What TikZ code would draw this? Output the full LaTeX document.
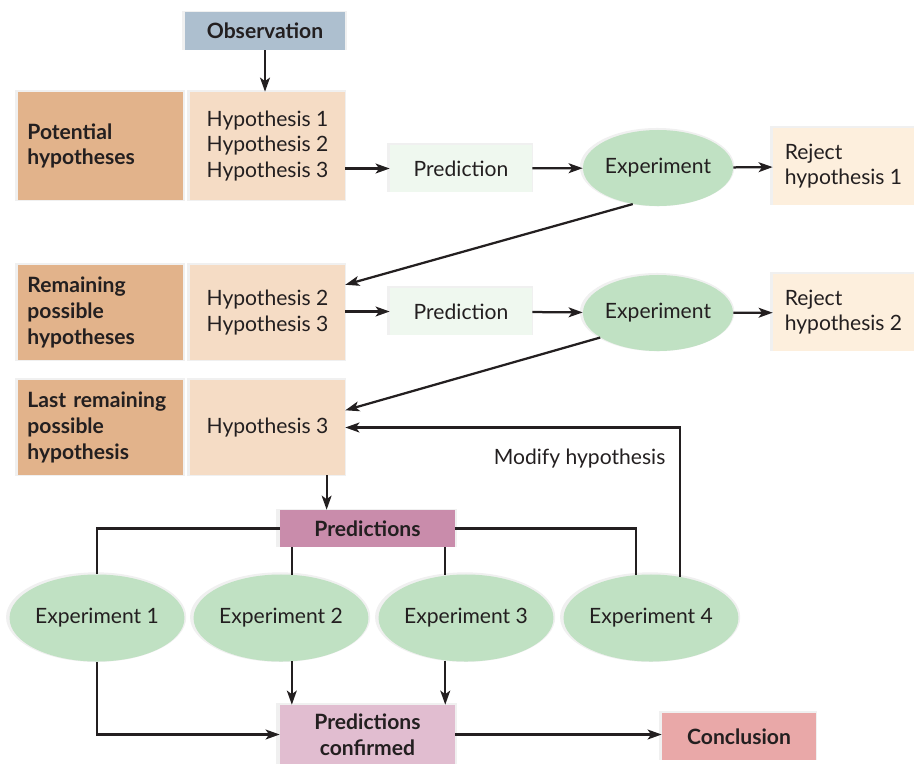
\documentclass[tikz,border=0pt]{standalone}
\usepackage{fontspec}
\setmainfont{Lato}
\usetikzlibrary{shapes.geometric,arrows.meta,calc,shadows}
\definecolor{obsblue}{HTML}{ADBFCF}
\definecolor{darktan}{HTML}{E2B38B}
\definecolor{lightpeach}{HTML}{F5DCC5}
\definecolor{predgreen}{HTML}{EFF8EF}
\definecolor{expgreen}{HTML}{C0E1C3}
\definecolor{rejectcream}{HTML}{FDEFDD}
\definecolor{predsmauve}{HTML}{C98CAB}
\definecolor{confirmpink}{HTML}{E1BDD0}
\definecolor{conclrose}{HTML}{E9A8A8}
\definecolor{inkdark}{HTML}{231F20}
\begin{document}
\begin{tikzpicture}
[x=0.025cm, y=-0.025cm,
  every node/.style={font=\fontsize{15}{17.9}\selectfont, text=inkdark},
  halo/.style={drop shadow={shadow xshift=-0.6pt, shadow yshift=0.6pt,
    shadow scale=1.03, opacity=0.06, fill=black}},
  boxdecorate/.style={shape=rectangle, inner sep=0pt, halo},
  darkbox/.style={boxdecorate, fill=darktan, minimum width=4.125cm,
    text width=3.65cm, align=left, font=\fontsize{15}{18.2}\selectfont\bfseries},
  hypbox/.style={boxdecorate, fill=lightpeach, minimum width=3.875cm, align=left},
  predbox/.style={boxdecorate, fill=predgreen, minimum width=3.55cm, minimum height=1.175cm},
  expdecorate/.style={shape=ellipse, inner sep=0pt, fill=expgreen, halo},
  rejectbox/.style={boxdecorate, fill=rejectcream, minimum width=3.525cm,
    minimum height=1.925cm, align=left},
  linedecorate/.style={draw=inkdark, line width=1.6pt},
  arrowdecorate/.style={linedecorate, -{Stealth[length=10pt,width=7pt,inset=2.5pt]}}]
\useasboundingbox (0,0) rectangle (914,764);
%% nodes or boxes
\node (obs) at (265,31) [boxdecorate, fill=obsblue, minimum width=4cm,
  minimum height=0.95cm, font=\fontsize{15}{17.7}\selectfont\bfseries] {Observation};
\foreach \nodename/\y/\h/\caption in {pa/146/2.7cm/{Potential\\hypotheses},
  pb/312.5/2.375cm/{Remaining\\possible\\hypotheses},
  pc/427.5/2.375cm/{Last remaining\\possible\\hypothesis}}
{
  \node (\nodename) at (100.5,\y) [darkbox, minimum height=\h] {\caption};
}
\node (hypA) at (267.5,146) [hypbox, minimum height=2.7cm]
  {Hypothesis 1\\Hypothesis 2\\Hypothesis 3};
\node (hypB) at (267.5,312.5) [hypbox, minimum height=2.375cm]
  {Hypothesis 2\\Hypothesis 3};
\node (hypC) at (267.5,427.5) [hypbox, minimum height=2.375cm] {Hypothesis 3};
\foreach \nodename/\y in {predA/168.5, predB/311.5}
{
  \node (\nodename) at (461,\y) [predbox] {Prediction};
}
\foreach \nodename/\y in {expA/168, expB/313}
{
  \node (\nodename) at (658,\y) [expdecorate, minimum width=3.75cm,
    minimum height=1.9cm] {Experiment};
}
\node (rejA) at (843.5,166.5) [rejectbox] {Reject\\hypothesis 1};
\node (rejB) at (843.5,312.5) [rejectbox] {Reject\\hypothesis 2};
\node (preds) at (367.5,528.5) [boxdecorate, fill=predsmauve, minimum width=4.375cm,
  minimum height=0.925cm, font=\fontsize{15}{17.7}\selectfont\bfseries] {Predictions};
\foreach \nodename/\x/\num in {ex1/97/1, ex2/281/2, ex3/466/3, ex4/651/4}
{
  \node (\nodename) at (\x,618) [expdecorate, minimum width=4.3cm,
    minimum height=2.175cm] {Experiment \num};
}
\node (conf) at (367.5,734.5) [boxdecorate, fill=confirmpink, minimum width=4.375cm,
  minimum height=1.475cm, align=center,
  font=\fontsize{15}{18.2}\selectfont\bfseries] {Predictions\\confirmed};
\node (concl) at (739,736.5) [boxdecorate, fill=conclrose, minimum width=3.85cm,
  minimum height=1.175cm, font=\fontsize{15}{17.7}\selectfont\bfseries] {Conclusion};
%% edges or lines
\coordinate (hc) at ($(hypC.south west)!0.88!(hypC.south east)$);
\draw[arrowdecorate] (obs.south) -- (obs.south |- hypA.north);
\draw[arrowdecorate] (predA.west -| hypA.east) -- (predA.west);
\draw[arrowdecorate] (predB.west -| hypB.east) -- (predB.west);
\path
\foreach \startnode/\endnode in {predA/expA, expA/rejA, predB/expB, expB/rejB}
{
  (\startnode) edge[arrowdecorate] (\endnode)
};
\draw[arrowdecorate] (expA.235) -- ($(hypB.north east)!0.21!(hypB.south east)$);
\draw[arrowdecorate] (expB.203) -- ($(hypC.north east)!0.32!(hypC.south east)$);
\draw[arrowdecorate] (ex4.55) |- (hypC.east)
  node[pos=0.65, below=0.5cm, inner sep=0pt] {Modify hypothesis};
\draw[arrowdecorate] (hc) -- (hc |- preds.north);
\draw[linedecorate] (preds.west) -| (ex1.north);
\draw[linedecorate] (preds.east) -| (ex4.109);
\draw[linedecorate] (ex2.76 |- preds.south) -- (ex2.76);
\draw[linedecorate] (ex3.116 |- preds.south) -- (ex3.116);
\draw[arrowdecorate] (ex2.-76) -- (ex2.-76 |- conf.north);
\draw[arrowdecorate] (ex3.-116) -- (ex3.-116 |- conf.north);
\draw[arrowdecorate] (ex1.south) |- (conf.west);
\draw[arrowdecorate] (conf.east) -- (conf.east -| concl.west);
\end{tikzpicture}
\end{document}
